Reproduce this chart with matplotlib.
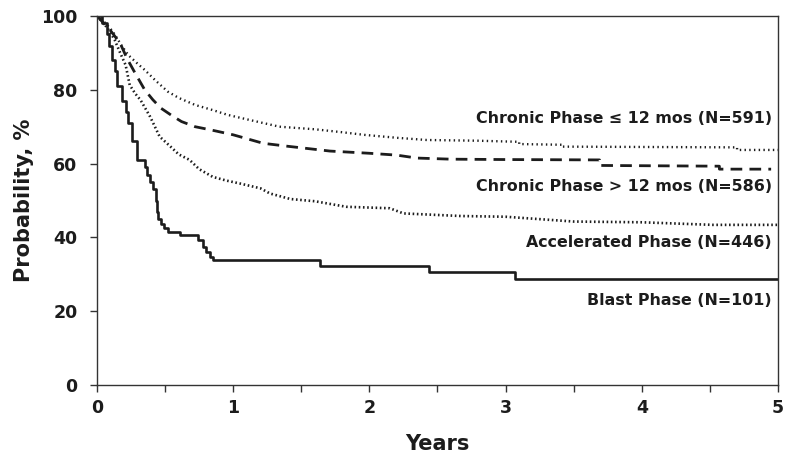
import matplotlib
matplotlib.use("Agg")
from matplotlib import pyplot as plt

# Blast phase (drawn as steps)
blast_t = [0, 0.04, 0.07, 0.09, 0.11, 0.13, 0.15, 0.18, 0.21, 0.23, 0.26, 0.29, 0.35, 0.37,
           0.39, 0.41, 0.43, 0.44, 0.45, 0.47, 0.49, 0.52, 0.61, 0.74, 0.78, 0.80, 0.83,
           0.85, 1.64, 2.44, 3.07, 5.0]
blast_p = [100, 98, 95, 92, 88, 85, 81, 77, 74, 71, 66, 61, 59, 57,
           55, 53, 50, 47, 45, 43.5, 42.5, 41.5, 40.6, 39.3, 37.5, 36, 34.8,
           33.9, 32.3, 30.7, 28.6, 28.6]

# Chronic phase <= 12 mos
cp1_t = [0, 0.05, 0.1, 0.13, 0.18, 0.23, 0.3, 0.35, 0.43, 0.52, 0.6, 0.72, 0.85, 0.96,
         1.1, 1.34, 1.6, 1.8, 1.96, 2.2, 2.42, 2.8, 3.1, 3.1, 3.42, 3.42, 4.7, 4.7, 5.0]
cp1_p = [100, 98.5, 96.5, 95, 92, 89.4, 87, 85.4, 82.5, 79.5, 77.8, 75.9, 74.5, 73.2,
         72, 70, 69.3, 68.5, 67.8, 67, 66.4, 66.2, 65.9, 65.3, 65.1, 64.6, 64.4, 63.7, 63.7]

# Chronic phase > 12 mos
cp2_t = [0, 0.05, 0.1, 0.17, 0.22, 0.28, 0.35, 0.41, 0.47, 0.55, 0.62, 0.72, 0.84, 1.0,
         1.22, 1.4, 1.71, 2.0, 2.2, 2.35, 2.6, 3.0, 3.69, 3.69, 4.57, 4.57, 4.95]
cp2_p = [100, 98, 96, 92.6, 88.5, 84.5, 80, 77.3, 75, 73, 71.4, 70, 69.1, 67.8,
         65.5, 64.7, 63.4, 62.8, 62.3, 61.5, 61.2, 61.1, 61.0, 59.5, 59.3, 58.5, 58.5]

# Accelerated phase
ap_t = [0, 0.05, 0.09, 0.13, 0.17, 0.21, 0.24, 0.28, 0.32, 0.39, 0.46, 0.54, 0.6, 0.68,
        0.75, 0.85, 0.95, 1.05, 1.2, 1.27, 1.42, 1.6, 1.83, 2.15, 2.25, 2.67, 3.0, 3.5,
        4.0, 4.52, 5.0]
ap_p = [100, 98, 96, 93.5, 90, 86.7, 81.3, 79, 77.2, 72.7, 67.3, 64.6, 62.5, 61,
        58.5, 56.4, 55.4, 54.6, 53.3, 51.9, 50.4, 49.8, 48.3, 47.9, 46.5, 45.8, 45.6, 44.3,
        44.1, 43.4, 43.4]

labels = ["Chronic Phase \u2264 12 mos (N=591)", "Chronic Phase > 12 mos (N=586)",
          "Accelerated Phase (N=446)", "Blast Phase (N=101)"]
label_y = [72.3, 53.9, 38.6, 22.8]

ink = "#1c1c1c"
plt.rcParams["font.family"] = ["DejaVu Sans"]
plt.rcParams["font.weight"] = "bold"

fig = plt.figure(figsize=(7.85, 4.57), dpi=100)
ax = fig.add_axes([0.1236, 0.1575, 0.8674, 0.8075])

ax.plot(cp1_t, cp1_p, color=ink, lw=1.7, linestyle=(0, (0.6, 1.4)), dash_capstyle="butt")
ax.plot(cp2_t, cp2_p, color=ink, lw=2.0, linestyle=(0, (4.2, 2.6)))
ax.plot(ap_t, ap_p, color=ink, lw=1.9, linestyle=(0, (0.6, 1.0)), dash_capstyle="butt")
ax.plot(blast_t, blast_p, color=ink, lw=1.9, drawstyle="steps-post")

for txt, yy in zip(labels, label_y):
    ax.text(4.955, yy, txt, ha="right", va="center", fontsize=11.4, fontweight="bold", color=ink)

ax.set_xlim(0, 5)
ax.set_ylim(0, 100)
ax.set_xticks([0, 0.5, 1, 1.5, 2, 2.5, 3, 3.5, 4, 4.5, 5])
ax.set_xticklabels(["0", "", "1", "", "2", "", "3", "", "4", "", "5"])
ax.set_yticks([0, 20, 40, 60, 80, 100])
ax.tick_params(direction="out", length=5, width=1.0, color="#333333", labelsize=12.5,
               labelcolor=ink, pad=5)
ax.tick_params(axis="y", pad=9)
for lab in ax.get_xticklabels() + ax.get_yticklabels():
    lab.set_fontweight("bold")
for s in ax.spines.values():
    s.set_linewidth(1.0)
    s.set_color("#333333")

ax.set_xlabel("Years", fontsize=15, fontweight="bold", color=ink, labelpad=12)
ax.set_ylabel("Probability, %", fontsize=15, fontweight="bold", color=ink, labelpad=5)

fig.savefig("out.png", dpi=100)
